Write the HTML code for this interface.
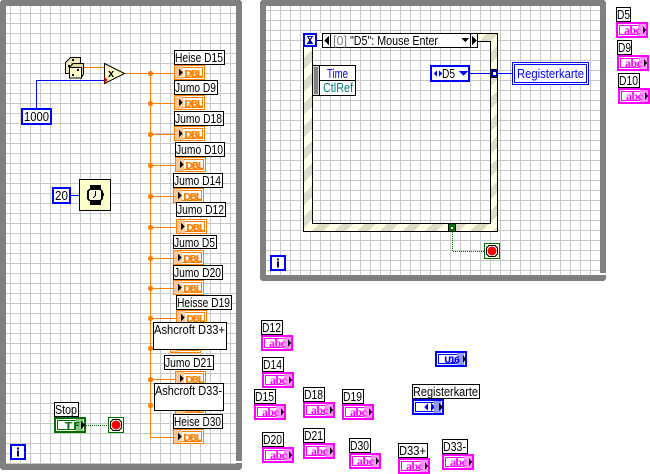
<!DOCTYPE html>
<html>
<head>
<meta charset="utf-8">
<style>
html,body{margin:0;padding:0;background:#fff;width:650px;height:474px;overflow:hidden}
svg{display:block}
text{font-family:"Liberation Sans",sans-serif;font-size:13px;fill:#000}
.lb{fill:#fff;stroke:#000;stroke-width:1}
.d{font-weight:bold;font-size:10px;fill:#ff8000;font-family:"DejaVu Sans",sans-serif}
.a{font-weight:bold;font-size:12px;fill:#ff00ff;font-family:"Liberation Serif",serif}
</style>
</head>
<body>
<svg xmlns="http://www.w3.org/2000/svg" width="650" height="474" viewBox="0 0 650 474" shape-rendering="crispEdges">
<defs>
<pattern id="g" x="0" y="3" width="10" height="10" patternUnits="userSpaceOnUse">
<rect width="10" height="10" fill="#fff"/>
<rect x="0" y="0" width="10" height="1" fill="#c8c8c8"/>
<rect x="0" y="0" width="1" height="10" fill="#c8c8c8"/>
</pattern>
<pattern id="g2" x="0" y="0" width="10" height="10" patternUnits="userSpaceOnUse">
<rect width="10" height="10" fill="#fff"/>
<rect x="0" y="0" width="10" height="1" fill="#c8c8c8"/>
<rect x="0" y="0" width="1" height="10" fill="#c8c8c8"/>
</pattern>
<pattern id="st" width="16" height="16" patternUnits="userSpaceOnUse" patternTransform="rotate(45)">
<rect width="16" height="16" fill="#ffffe6"/>
<rect width="8" height="16" fill="#dcdcc8"/>
</pattern>
<symbol id="dbl" width="32" height="16" overflow="visible">
<rect x="0.5" y="0.5" width="30" height="14" fill="#fff" stroke="#ff8000"/>
<rect x="3.5" y="2.5" width="25" height="10" fill="#fff" stroke="#ff8000"/>
<rect x="1" y="1" width="8" height="13" fill="#ffc896"/>
<path d="M5 4 L9 7.5 L5 11 Z" fill="#000"/>
</symbol>
<symbol id="abc" width="32" height="16" overflow="visible">
<rect x="1" y="1" width="30" height="14" fill="#fff" stroke="#ff00ff" stroke-width="2"/>
<rect x="3.5" y="3.5" width="25" height="9" fill="#fff" stroke="#ff00ff"/>
<rect x="22" y="2" width="8" height="12" fill="#ff96ff"/>
<path d="M27 4 L30 8 L27 12 Z" fill="#000"/>
</symbol>
<symbol id="stop" width="16" height="16" overflow="visible">
<rect x="0.5" y="0.5" width="15" height="15" fill="#ffffe6" stroke="#007000"/>
<path d="M5 2.5 H11 L13.5 5 V11 L11 13.5 H5 L2.5 11 V5 Z" fill="#fff" stroke="#000"/>
<circle cx="8" cy="8" r="4.5" fill="#ff0000" shape-rendering="auto"/>
</symbol>
<symbol id="info" width="16" height="16" overflow="visible">
<rect x="1" y="1" width="14" height="14" fill="#fff" stroke="#0000ff" stroke-width="2"/>
<rect x="7" y="3.5" width="2" height="2" fill="#000080"/>
<rect x="7" y="6.5" width="2" height="6" fill="#000080"/>
</symbol>
</defs>

<rect width="650" height="474" fill="#fff"/>

<!-- left loop -->
<rect x="0" y="0" width="242" height="470" rx="3" fill="#808080"/>
<rect x="6" y="6" width="230" height="458" fill="url(#g)"/>
<rect x="234" y="461" width="8" height="2" fill="#fff"/>

<!-- right loop -->
<rect x="260" y="0" width="346" height="281" rx="3" fill="#808080"/>
<rect x="266" y="6" width="334" height="269" fill="url(#g2)"/>
<rect x="598" y="273" width="8" height="2" fill="#fff"/>

<!-- left wires -->
<g fill="none" stroke="#ff8000">
<path d="M84 67.5 H104"/>
<path d="M125 73.5 H174"/>
<path d="M150.5 73 V437.5 H174"/>
<path d="M150 103.5 H174 M150 134.5 H174 M150 165.5 H175 M150 196.5 H173 M150 227.5 H176 M150 258.5 H173 M150 288.5 H173 M150 318.5 H176 M150 379.5 H175"/>
</g>
<g fill="#ff8000" shape-rendering="auto">
<circle cx="150.5" cy="73.5" r="2.6"/><circle cx="150.5" cy="103.5" r="2.6"/><circle cx="150.5" cy="134.5" r="2.6"/><circle cx="150.5" cy="165.5" r="2.6"/><circle cx="150.5" cy="196.5" r="2.6"/><circle cx="150.5" cy="227.5" r="2.6"/><circle cx="150.5" cy="258.5" r="2.6"/><circle cx="150.5" cy="288.5" r="2.6"/><circle cx="150.5" cy="318.5" r="2.6"/><circle cx="150.5" cy="348.5" r="2.6"/><circle cx="150.5" cy="379.5" r="2.6"/><circle cx="150.5" cy="405.5" r="2.6"/>
</g>
<path d="M36.5 108 V80.5 H105" fill="none" stroke="#0000ff"/>
<path d="M71 195.5 H79" fill="none" stroke="#0000ff"/>

<!-- dice -->
<g stroke="#000" stroke-width="1" shape-rendering="auto">
<path d="M65.5 62.5 L70.5 57.5 H80.5 V64 H72 V73.5 H65.5 Z" fill="#f0e8b8"/>
<path d="M69.5 67.5 L73 63.5 H83.5 V74 L81.5 77.5 V67.5 Z" fill="#e0d8a0"/>
<rect x="69.5" y="67.5" width="12" height="10.5" fill="#ffffcc"/>
</g>
<g fill="#000"><rect x="68" y="65" width="2" height="2"/><rect x="72" y="59" width="2" height="2"/><rect x="77" y="69" width="2" height="2"/><rect x="72" y="74" width="2" height="2"/></g>

<!-- multiply -->
<path d="M104.5 63.5 L124.5 73.5 L104.5 83.5 Z" fill="#ffffcc" stroke="#000" shape-rendering="auto"/>
<text x="108" y="77" style="font-size:11px;font-weight:bold">x</text>
<path d="M104.5 77 L108 80 L104.5 83 Z" fill="#ff0000"/>

<!-- constants -->
<rect x="22" y="109" width="29" height="15" fill="#fff" stroke="#0000ff" stroke-width="2"/>
<text x="24" y="121" textLength="25" lengthAdjust="spacingAndGlyphs">1000</text>
<rect x="53" y="188" width="17" height="15" fill="#fff" stroke="#0000ff" stroke-width="2"/>
<text x="55" y="200" textLength="13" lengthAdjust="spacingAndGlyphs">20</text>

<!-- clock -->
<rect x="79.5" y="179.5" width="31" height="31" fill="#ffffcc" stroke="#000"/>
<rect x="90" y="185" width="11" height="20" fill="#000"/>
<rect x="87" y="189" width="16" height="12" rx="3" fill="#000"/>
<rect x="89" y="190" width="12" height="10" rx="2" fill="#ffffe6"/>
<path d="M95.5 191 V195.5 L93 198" fill="none" stroke="#000"/>
<rect x="103" y="193" width="1" height="3" fill="#000"/>

<!-- DBL indicators -->
<use href="#dbl" x="170" y="338"/><text class="d" x="180" y="351" textLength="19">DBL</text>
<use href="#dbl" x="175" y="400"/><text class="d" x="185" y="413" textLength="19">DBL</text>

<use href="#dbl" x="174" y="65"/><text class="d" x="184" y="77" textLength="19">DBL</text>
<use href="#dbl" x="174" y="95"/><text class="d" x="184" y="107" textLength="19">DBL</text>
<use href="#dbl" x="174" y="126"/><text class="d" x="184" y="138" textLength="19">DBL</text>
<use href="#dbl" x="175" y="157"/><text class="d" x="185" y="169" textLength="19">DBL</text>
<use href="#dbl" x="173" y="188"/><text class="d" x="183" y="200" textLength="19">DBL</text>
<use href="#dbl" x="176" y="219"/><text class="d" x="186" y="231" textLength="19">DBL</text>
<use href="#dbl" x="173" y="250"/><text class="d" x="183" y="262" textLength="19">DBL</text>
<use href="#dbl" x="173" y="280"/><text class="d" x="183" y="292" textLength="19">DBL</text>
<use href="#dbl" x="176" y="310"/><text class="d" x="186" y="322" textLength="19">DBL</text>
<use href="#dbl" x="175" y="371"/><text class="d" x="185" y="383" textLength="19">DBL</text>
<use href="#dbl" x="173" y="429"/><text class="d" x="183" y="441" textLength="19">DBL</text>

<!-- labels left -->
<rect class="lb" x="174.5" y="50.5" width="50" height="14"/><text x="175" y="62" textLength="48" lengthAdjust="spacingAndGlyphs">Heise D15</text>
<rect class="lb" x="174.5" y="80.5" width="43" height="14"/><text x="175" y="92" textLength="41" lengthAdjust="spacingAndGlyphs">Jumo D9</text>
<rect class="lb" x="174.5" y="111.5" width="49" height="14"/><text x="175" y="123" textLength="47" lengthAdjust="spacingAndGlyphs">Jumo D18</text>
<rect class="lb" x="175.5" y="142.5" width="49" height="14"/><text x="176" y="154" textLength="47" lengthAdjust="spacingAndGlyphs">Jumo D10</text>
<rect class="lb" x="173.5" y="173.5" width="49" height="14"/><text x="174" y="185" textLength="47" lengthAdjust="spacingAndGlyphs">Jumo D14</text>
<rect class="lb" x="176.5" y="202.5" width="49" height="14"/><text x="177" y="214" textLength="47" lengthAdjust="spacingAndGlyphs">Jumo D12</text>
<rect class="lb" x="173.5" y="235.5" width="43" height="13"/><text x="174" y="247" textLength="41" lengthAdjust="spacingAndGlyphs">Jumo D5</text>
<rect class="lb" x="173.5" y="265.5" width="49" height="14"/><text x="174" y="277" textLength="47" lengthAdjust="spacingAndGlyphs">Jumo D20</text>
<rect class="lb" x="176.5" y="295.5" width="55" height="14"/><text x="177" y="307" textLength="53" lengthAdjust="spacingAndGlyphs">Heisse D19</text>
<rect class="lb" x="153.5" y="322.5" width="73" height="27"/><text x="154" y="334" textLength="71" lengthAdjust="spacingAndGlyphs">Ashcroft D33+</text>
<rect class="lb" x="164.5" y="355.5" width="49" height="14"/><text x="165" y="367" textLength="47" lengthAdjust="spacingAndGlyphs">Jumo D21</text>
<rect class="lb" x="154.5" y="383.5" width="69" height="27"/><text x="155" y="395" textLength="67" lengthAdjust="spacingAndGlyphs">Ashcroft D33-</text>
<rect class="lb" x="173.5" y="414.5" width="49" height="14"/><text x="174" y="426" textLength="47" lengthAdjust="spacingAndGlyphs">Heise D30</text>

<!-- stop left -->
<rect class="lb" x="54.5" y="402.5" width="24" height="14"/><text x="55" y="414" textLength="22" lengthAdjust="spacingAndGlyphs">Stop</text>
<rect x="55" y="418" width="30" height="14" fill="#fff" stroke="#007000" stroke-width="2"/>
<rect x="57.5" y="420.5" width="25" height="9" fill="#fff" stroke="#007000"/>
<rect x="76" y="419" width="7" height="12" fill="#8cc48c"/>
<text x="65" y="429" textLength="15" style="font-family:'DejaVu Sans',sans-serif;font-weight:bold;font-size:10px;fill:#007000">TF</text>
<path d="M81 421 L85 425 L81 429 Z" fill="#000"/>
<path d="M86 425.5 H108" fill="none" stroke="#007000" stroke-dasharray="1 1"/>
<use href="#stop" x="108" y="417"/>
<use href="#info" x="10" y="444"/>

<!-- event structure -->
<rect x="303.5" y="33.5" width="194" height="198" fill="url(#st)" stroke="#000"/>
<rect x="312.5" y="41.5" width="178" height="182" fill="url(#g2)" stroke="#000"/>
<rect x="478" y="34" width="13" height="7" fill="url(#st)"/>
<rect x="491" y="34" width="6" height="30" fill="url(#st)"/>
<rect x="317" y="33" width="5" height="15" fill="#fff"/>
<rect x="312" y="41" width="10" height="6" fill="#fff"/>
<path d="M478 41.5 H490.5 V64" fill="none" stroke="#000"/>
<path d="M317 40.5 H322" stroke="#000" fill="none"/>

<!-- hourglass -->
<rect x="304" y="34" width="12" height="12" fill="#ffffe6" stroke="#0000ff" stroke-width="2"/>
<path d="M307 36.5 H313 M307 43.5 H313 M308 37 L312 43 M312 37 L308 43" stroke="#0000c0" fill="none" stroke-width="1"/>
<path d="M308 43 L310 40 L312 43 Z" fill="#0000c0"/>

<rect x="322.5" y="33.5" width="155" height="14" fill="#fff" stroke="#000"/>
<path d="M330.5 33.5 V47 M470.5 33.5 V47" stroke="#000" fill="none"/>
<path d="M329 36 L324 40.5 L329 45 Z" fill="#000"/>
<path d="M472 36 L477 40.5 L472 45 Z" fill="#000"/>
<text x="333" y="45" textLength="14" lengthAdjust="spacingAndGlyphs" style="fill:#808080">[0]</text>
<text x="350" y="45" textLength="88" lengthAdjust="spacingAndGlyphs">"D5": Mouse Enter</text>
<path d="M461 38 H469 L465 42 Z" fill="#000"/>

<!-- event data -->
<rect x="312.5" y="65.5" width="43" height="30" fill="#fff" stroke="#000"/>
<rect x="313" y="66" width="6" height="29" fill="#d8d8d8"/>
<rect x="314" y="67" width="4" height="27" fill="#808080"/>
<path d="M319.5 65.5 V95 M320 80.5 H355" stroke="#000" fill="none"/>
<text x="327" y="78" textLength="21" lengthAdjust="spacingAndGlyphs" style="fill:#0000ff">Time</text>
<text x="323" y="92" textLength="30" lengthAdjust="spacingAndGlyphs" style="fill:#007b7b">CtlRef</text>

<!-- ring D5 and tunnel -->
<path d="M470 73.5 H512" stroke="#0000ff" fill="none"/>
<rect x="431" y="66" width="38" height="15" fill="#fff" stroke="#0000ff" stroke-width="2"/>
<path d="M437 70 L434 73.5 L437 77 Z M439 70 L442 73.5 L439 77 Z" fill="#0000ff"/>
<text x="442" y="78" textLength="13" lengthAdjust="spacingAndGlyphs">D5</text>
<path d="M459 71 H468 L463.5 76 Z" fill="#0000ff"/>
<rect x="490.5" y="69.5" width="7" height="8" fill="#0000c0" stroke="#000"/>
<rect x="493" y="72" width="3" height="3" fill="#fff"/>

<rect x="512.5" y="62.5" width="76" height="22" fill="#fff" stroke="#0000ff"/>
<rect x="514.5" y="64.5" width="72" height="18" fill="#fff" stroke="#0000ff"/>
<text x="517" y="78" textLength="67" lengthAdjust="spacingAndGlyphs" style="fill:#0000ff">Registerkarte</text>

<!-- bottom tunnel + stop -->
<rect x="448.5" y="223.5" width="7" height="8" fill="#007000" stroke="#000"/>
<rect x="451" y="227" width="2" height="2" fill="#fff"/>
<path d="M452.5 232 V251.5 H484" fill="none" stroke="#007000" stroke-dasharray="1 1"/>
<use href="#stop" x="484" y="243"/>
<use href="#info" x="270" y="255"/>

<!-- right strings -->
<rect class="lb" x="616.5" y="7.5" width="14" height="14"/><text x="617" y="19" textLength="13" lengthAdjust="spacingAndGlyphs">D5</text>
<use href="#abc" x="616" y="22"/><text class="a" x="624" y="34" textLength="17">abc</text>
<rect class="lb" x="617.5" y="40.5" width="14" height="14"/><text x="618" y="52" textLength="13" lengthAdjust="spacingAndGlyphs">D9</text>
<use href="#abc" x="617" y="55"/><text class="a" x="625" y="67" textLength="17">abc</text>
<rect class="lb" x="618.5" y="73.5" width="21" height="14"/><text x="619" y="85" textLength="19" lengthAdjust="spacingAndGlyphs">D10</text>
<use href="#abc" x="618" y="88"/><text class="a" x="626" y="100" textLength="17">abc</text>

<!-- bottom strings -->
<rect class="lb" x="261.5" y="320.5" width="21" height="14"/><text x="262" y="332" textLength="19" lengthAdjust="spacingAndGlyphs">D12</text>
<use href="#abc" x="261" y="335"/><text class="a" x="269" y="347" textLength="17">abc</text>
<rect class="lb" x="262.5" y="357.5" width="21" height="14"/><text x="263" y="369" textLength="19" lengthAdjust="spacingAndGlyphs">D14</text>
<use href="#abc" x="262" y="372"/><text class="a" x="270" y="384" textLength="17">abc</text>
<rect class="lb" x="254.5" y="389.5" width="21" height="14"/><text x="255" y="401" textLength="19" lengthAdjust="spacingAndGlyphs">D15</text>
<use href="#abc" x="254" y="404"/><text class="a" x="262" y="416" textLength="17">abc</text>
<rect class="lb" x="303.5" y="387.5" width="21" height="14"/><text x="304" y="399" textLength="19" lengthAdjust="spacingAndGlyphs">D18</text>
<use href="#abc" x="303" y="402"/><text class="a" x="311" y="414" textLength="17">abc</text>
<rect class="lb" x="342.5" y="389.5" width="21" height="14"/><text x="343" y="401" textLength="19" lengthAdjust="spacingAndGlyphs">D19</text>
<use href="#abc" x="342" y="404"/><text class="a" x="350" y="416" textLength="17">abc</text>
<rect class="lb" x="262.5" y="432.5" width="21" height="14"/><text x="263" y="444" textLength="19" lengthAdjust="spacingAndGlyphs">D20</text>
<use href="#abc" x="262" y="447"/><text class="a" x="270" y="459" textLength="17">abc</text>
<rect class="lb" x="303.5" y="428.5" width="21" height="14"/><text x="304" y="440" textLength="19" lengthAdjust="spacingAndGlyphs">D21</text>
<use href="#abc" x="303" y="443"/><text class="a" x="311" y="455" textLength="17">abc</text>
<rect class="lb" x="349.5" y="438.5" width="21" height="14"/><text x="350" y="450" textLength="19" lengthAdjust="spacingAndGlyphs">D30</text>
<use href="#abc" x="349" y="453"/><text class="a" x="357" y="465" textLength="17">abc</text>
<rect class="lb" x="398.5" y="443.5" width="29" height="14"/><text x="399" y="455" textLength="27" lengthAdjust="spacingAndGlyphs">D33+</text>
<use href="#abc" x="398" y="458"/><text class="a" x="406" y="470" textLength="17">abc</text>
<rect class="lb" x="442.5" y="439.5" width="25" height="14"/><text x="443" y="451" textLength="23" lengthAdjust="spacingAndGlyphs">D33-</text>
<use href="#abc" x="442" y="454"/><text class="a" x="450" y="466" textLength="17">abc</text>

<!-- U16 -->
<rect x="436" y="352" width="30" height="14" fill="#fff" stroke="#0000ff" stroke-width="2"/>
<rect x="438.5" y="354.5" width="25" height="9" fill="#fff" stroke="#0000ff"/>
<rect x="457" y="353" width="7" height="12" fill="#9696ff"/>
<text x="444" y="363" textLength="16" style="font-family:'DejaVu Sans',sans-serif;font-weight:bold;font-size:9px;fill:#0000ff">U16</text>
<path d="M463 355 L466 359 L463 363 Z" fill="#000"/>

<!-- Registerkarte terminal -->
<rect class="lb" x="412.5" y="384.5" width="67" height="14"/><text x="413" y="396" textLength="65" lengthAdjust="spacingAndGlyphs">Registerkarte</text>
<rect x="413" y="400" width="30" height="14" fill="#fff" stroke="#0000ff" stroke-width="2"/>
<rect x="415.5" y="402.5" width="25" height="9" fill="#fff" stroke="#0000ff"/>
<path d="M428 403 L424 407 L428 411 Z M431 403 L435 407 L431 411 Z" fill="#0000ff"/>
<rect x="434" y="401" width="7" height="12" fill="#9696ff"/>
<path d="M439 403 L443 407 L439 411 Z" fill="#000"/>
</svg>
</body>
</html>
